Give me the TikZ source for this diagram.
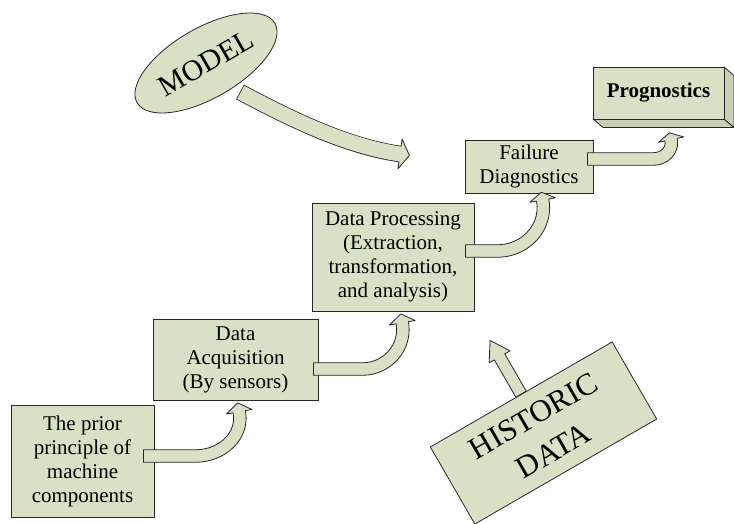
\documentclass[tikz,border=0pt]{standalone}
\usepackage{fontspec}
\setmainfont{Liberation Serif}
\usetikzlibrary{calc,shapes.geometric}
\definecolor{sage}{RGB}{216,225,198}

% half width of an arrow band and half width of its head
\pgfmathsetmacro{\bandhalf}{6.25}
\pgfmathsetmacro{\barbout}{13}
% block arrow that runs right from a tail point and turns upwards
% #1 tail point, #2 straight run, #3 x radius, #4 y radius, #5 end angle, #6 head length
\newcommand{\upturn}[6]{%
  \path (#1) ++(#2,#4) coordinate (turn);
  \draw[arrowbody]
    ($(turn)+(-#2,{-#4+\bandhalf})$) -- ($(turn)+(-#2,{-#4-\bandhalf})$)
    -- ($(turn)+(0,{-#4-\bandhalf})$)
    arc[start angle=-90, end angle=#5, x radius={#3+\bandhalf}, y radius={#4+\bandhalf}]
    -- ($(turn)+({(#3+\barbout)*cos(#5)},{(#4+\barbout)*sin(#5)})$)
    -- ($(turn)+({#3*cos(#5)-#6*sin(#5)},{#4*sin(#5)+#6*cos(#5)})$)
    -- ($(turn)+({(#3-\barbout)*cos(#5)},{(#4-\barbout)*sin(#5)})$)
    -- ($(turn)+({(#3-\bandhalf)*cos(#5)},{(#4-\bandhalf)*sin(#5)})$)
    arc[start angle=#5, end angle=-90, x radius={#3-\bandhalf}, y radius={#4-\bandhalf}]
    -- cycle;
}

\begin{document}
\begin{tikzpicture}[x=1pt, y=1pt,
  box/.style={draw=black!85, line width=0.8pt, fill=sage, align=center,
    inner sep=0pt, font=\fontsize{21}{24}\selectfont},
  arrowbody/.style={draw=black!85, line width=0.8pt, fill=sage, line join=round}]
\useasboundingbox (0,0) rectangle (734,523);

% process steps
\node[box, minimum width=143, minimum height=112] (prior) at (82.5,62)
  {The prior\\principle of\\machine\\components};
\node[box, minimum width=165, minimum height=81] (acq) at (235.5,163.5)
  {Data\\Acquisition\\(By sensors)};
\node[box, minimum width=162, minimum height=108] (proc) at (393,266)
  {Data Processing\\(Extraction,\\transformation,\\and analysis)};
\node[box, minimum width=128, minimum height=53] (fail) at (529,356.5)
  {Failure\\Diagnostics};

% prognostics block with its side and bottom faces
\draw[arrowbody, fill=sage!92!black] (593,404) -- ++(10,-8.5) -- ++(131,0) -- (724,404) -- cycle;
\draw[arrowbody, fill=sage!92!black] (724,456) -- ++(10,-8.5) -- ++(0,-52) -- (724,404) -- cycle;
\node[box, minimum width=131, minimum height=52, font=\fontsize{21}{24}\selectfont\bfseries]
  (prog) at (658.5,430) {Prognostics};

% inputs
\node[box, ellipse, minimum width=159, minimum height=70, rotate=30,
  font=\fontsize{29.5}{32}\selectfont] (model) at (206,460) {MODEL};
\node[box, minimum width=210, minimum height=89, rotate=30,
  font=\fontsize{31}{40}\selectfont] (hist) at (543.5,90) {HISTORIC\\DATA};

% turning arrows between the steps
\coordinate (t1) at ([shift={(-11,5)}]prior.east);
\upturn{t1}{52}{44.5}{37.7}{10}{9}
\coordinate (t2) at ([shift={(-5,-9.5)}]acq.east);
\upturn{t2}{49}{40.5}{39.4}{10}{9}
\coordinate (t3) at ([shift={(-9,6)}]proc.east);
\upturn{t3}{32}{46}{43.4}{10}{8}
\coordinate (t4) at ([shift={(-6,7.5)}]fail.east);
\upturn{t4}{66}{18}{16}{12}{7}

% arrow from the model
\coordinate (m0) at ([shift={(34,-29)}]model.center);
\coordinate (m1) at (288.6,405.2);
\coordinate (m2) at (345.5,376.7);
\coordinate (m3) at (400,369);
\draw[line width=16.6pt, black!85] (m0) .. controls (m1) and (m2) .. (m3);
\draw[arrowbody] ($(m3)+(82:15)$) -- ($(m3)+(-8:9.5)$) -- ($(m3)+(-98:15)$) -- cycle;
\draw[line width=15pt, sage, shorten <=0.8pt, shorten >=-2pt]
  (m0) .. controls (m1) and (m2) .. (m3);

% arrow from the historic data
\draw[arrowbody, shift={(hist.north)}, rotate=120]
  (0,-6) -- (43,-6) -- (43,-12) -- (62,0) -- (43,12) -- (43,6) -- (0,6) -- cycle;
\end{tikzpicture}
\end{document}
